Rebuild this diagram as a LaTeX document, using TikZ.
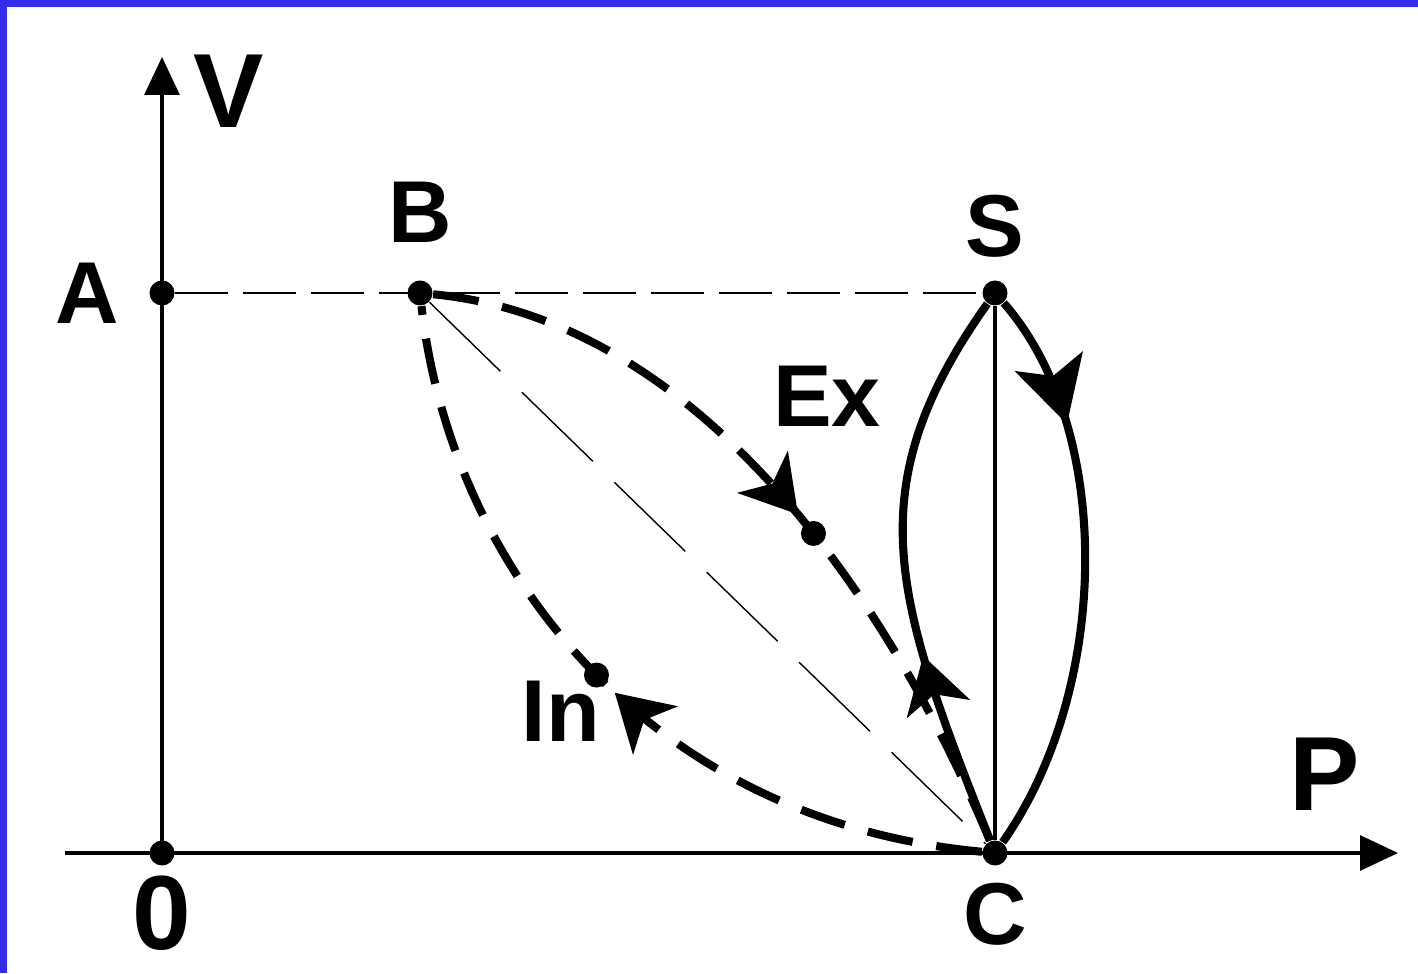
\documentclass[tikz,border=0pt]{standalone}
\usepackage{fontspec}
\setmainfont{Liberation Sans}
\usepackage{xcolor}
\usetikzlibrary{positioning, arrows.meta, decorations.markings}

\definecolor{frameblue}{RGB}{50,45,230}

\tikzset{
  dot/.style={circle, fill=black, inner sep=0pt, minimum size=2.5mm},
  ptlabel/.style={inner sep=0pt, font=\fontsize{25}{30}\selectfont\bfseries},
  axlabel/.style={inner sep=0pt, font=\fontsize{30}{36}\selectfont\bfseries},
  axis/.style={line width=0.9pt, -{Triangle[length=3.8mm,width=3.5mm]}},
  guide/.style={line width=0.8pt, dash pattern=on 5.3mm off 1.5mm},
  chord/.style={line width=0.4pt, dash pattern=on 9.9mm off 3mm},
  route/.style={line width=2.3pt, dash pattern=on 4.6mm off 2.4mm},
  loop/.style={line width=2.3pt},
  bigtip/.tip={Stealth[length=5.5mm,width=6.5mm,inset=1.5mm]},
  hugetip/.tip={Stealth[length=6.5mm,width=7mm,inset=1.5mm]},
  tip at/.style 2 args={postaction={decorate},
    decoration={markings, mark=at position #1 with {\arrow{#2}}}},
}

\begin{document}
\begin{tikzpicture}
  \useasboundingbox (0,0) rectangle (14.18,9.73);
  % frame
  \fill[frameblue] (0,9.66) rectangle (14.18,9.73);
  \fill[frameblue] (0,0) rectangle (0.07,9.73);

  % points
  \node[dot] (O) at (1.62, 1.20) {};
  \node[dot] (A) at (1.62, 6.80) {};
  \node[dot] (B) at (4.20, 6.80) {};
  \node[dot] (S) at (9.95, 6.80) {};
  \node[dot] (C) at (9.95, 1.20) {};

  \coordinate (vtip) at (1.62, 9.16);
  \coordinate (pstart) at (0.65, 1.20);
  \coordinate (ptip) at (13.98, 1.20);

  % axes
  \draw[axis] (O.center) -- (vtip);
  \draw[axis] (pstart) -- (ptip);

  \draw[guide] (A) -- (S);
  \draw[chord] (B) -- (C);
  \draw[line width=1pt] (S) -- (C);

  % dashed loop
  \draw[route, postaction={decorate}, decoration={markings,
      mark=at position 0.535 with {\arrow{bigtip}},
      mark=at position 0.565 with {\node[dot] (exdot) {};}}]
    (B) .. controls (7.00, 6.53) and (8.90, 3.73) .. (C);
  \draw[route, postaction={decorate}, decoration={markings,
      mark=at position 0.48 with {\arrow{bigtip}},
      mark=at position 0.51 with {\node[dot] (indot) {};}}]
    (C) .. controls (6.40, 1.53) and (4.50, 4.13) .. (B);

  % solid loop
  \draw[loop, tip at={0.24}{hugetip}] (S) .. controls (11.15, 5.43) and (11.10, 2.83) .. (C);
  \draw[loop, tip at={0.345}{bigtip}] (C) .. controls (8.95, 3.73) and (8.55, 4.83) .. (S);

  % labels
  \node[axlabel, anchor=base] (vlab) at (2.29, 8.45) {V};
  \node[axlabel, anchor=base] (plab) at (13.25, 1.63) {P};
  \node[axlabel, below=0.9mm of O] (olab) {0};
  \node[ptlabel, left=2.9mm of A] (alab) {A};
  \node[ptlabel, above=3.7mm of B] (blab) {B};
  \node[ptlabel, above=2.2mm of S] (slab) {S};
  \node[ptlabel, below=1.6mm of C] (clab) {C};
  \node[ptlabel, anchor=base] (exlab) at (8.27, 5.46) {Ex};
  \node[ptlabel, anchor=base] (inlab) at (5.61, 2.31) {In};
\end{tikzpicture}
\end{document}
